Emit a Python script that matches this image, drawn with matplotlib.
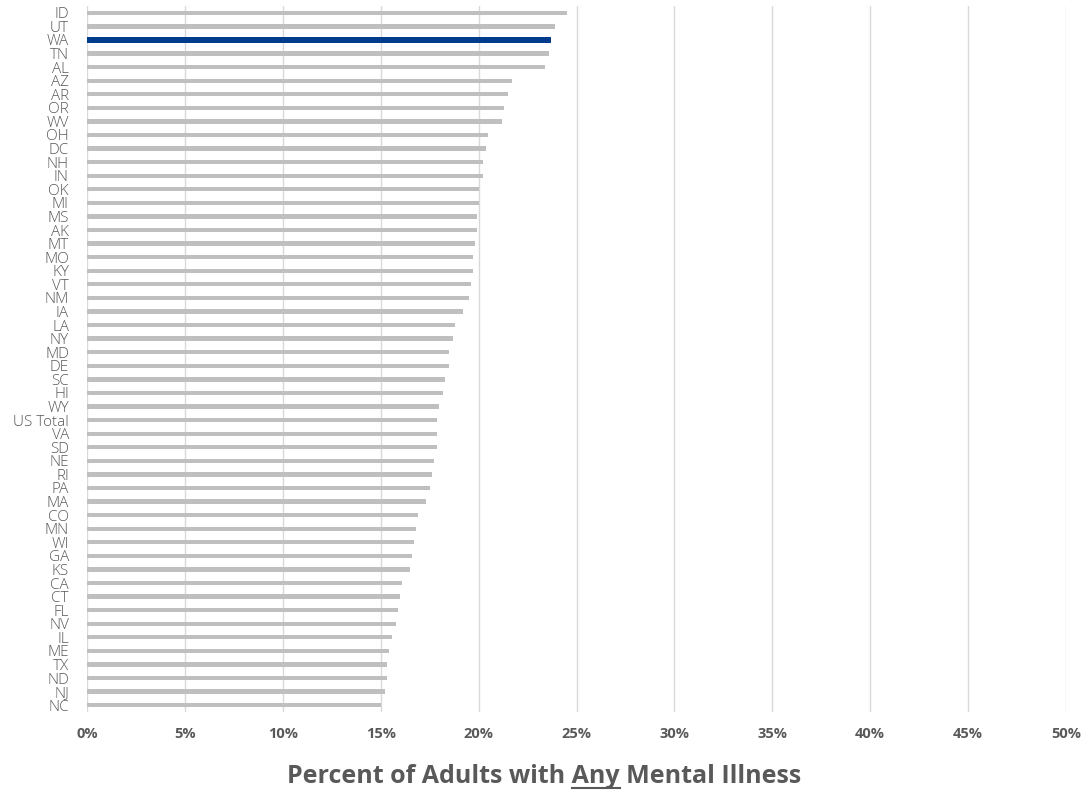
import matplotlib
matplotlib.use("Agg")
import matplotlib.pyplot as plt
from matplotlib.ticker import FuncFormatter, MultipleLocator

# states sorted from highest to lowest share
states = ['ID', 'UT', 'WA', 'TN', 'AL', 'AZ', 'AR', 'OR', 'WV', 'OH', 'DC', 'NH', 'IN',
          'OK', 'MI', 'MS', 'AK', 'MT', 'MO', 'KY', 'VT', 'NM', 'IA', 'LA', 'NY',
          'MD', 'DE', 'SC', 'HI', 'WY', 'US Total', 'VA', 'SD', 'NE', 'RI', 'PA', 'MA', 'CO',
          'MN', 'WI', 'GA', 'KS', 'CA', 'CT', 'FL', 'NV', 'IL', 'ME', 'TX', 'ND', 'NJ', 'NC']
ami_pct = [24.5, 23.9, 23.7, 23.6, 23.4, 21.7, 21.5, 21.3, 21.2, 20.5, 20.4, 20.2, 20.2,
           20.0, 20.0, 19.9, 19.9, 19.8, 19.7, 19.7, 19.6, 19.5, 19.2, 18.8, 18.7,
           18.5, 18.5, 18.3, 18.2, 18.0, 17.9, 17.9, 17.9, 17.7, 17.6, 17.5, 17.3, 16.9,
           16.8, 16.7, 16.6, 16.5, 16.1, 16.0, 15.9, 15.8, 15.6, 15.4, 15.3, 15.3, 15.2, 15.0]
highlight = 'WA'

label_col = '#595959'
fig = plt.figure(figsize=(10.88, 7.95), dpi=100)
ax = fig.add_axes([87 / 1088, 1 - 712 / 795, (1066 - 87) / 1088, (712 - 6) / 795])

ypos = list(range(len(states)))
colors = ['#003B8E' if s == highlight else '#BFBFBF' for s in states]
heights = [0.4 if s == highlight else 0.32 for s in states]
ax.barh(ypos, ami_pct, height=heights, color=colors, zorder=3)

ax.set_xlim(0, 50)
ax.set_ylim(len(states) - 0.5, -0.5)
ax.xaxis.set_major_locator(MultipleLocator(5))
ax.xaxis.set_major_formatter(FuncFormatter(lambda v, p: f'{v:.0f}%'))
ax.grid(axis='x', color='#D9D9D9', linewidth=1, zorder=0)
for sp in ax.spines.values():
    sp.set_visible(False)
ax.tick_params(length=0)
ax.tick_params(axis='x', pad=11, labelsize=10.5, labelcolor=label_col)
for t in ax.get_xticklabels():
    t.set_fontweight('bold')
    t.set_fontfamily('Open Sans')

ax.set_yticks(ypos)
ax.set_yticklabels(states, fontsize=11, color=label_col, fontfamily='Open Sans',
                   fontweight='light')
ax.tick_params(axis='y', pad=13)

# axis title with the word "Any" underlined
pre, word, post = 'Percent of Adults with ', 'Any', ' Mental Illness'
tkw = dict(fontsize=18, fontweight='bold', color=label_col, fontfamily='Open Sans')
full = fig.text(0.5, 1 - 783 / 795, pre + word + post, ha='center', va='baseline', **tkw)
fig.canvas.draw()
r = fig.canvas.get_renderer()
fb = full.get_window_extent(r)
tmp = fig.text(0, 0, pre, **tkw)
w_pre = tmp.get_window_extent(r).width
tmp.set_text(pre + word)
w_word = tmp.get_window_extent(r).width
tmp.remove()
x0 = (fb.x0 + w_pre) / 1088
x1 = (fb.x0 + w_word) / 1088
yu = (795 - 788) / 795
fig.add_artist(plt.Line2D([x0, x1], [yu, yu], color=label_col, linewidth=1.5))

fig.savefig('out.png', dpi=100)
